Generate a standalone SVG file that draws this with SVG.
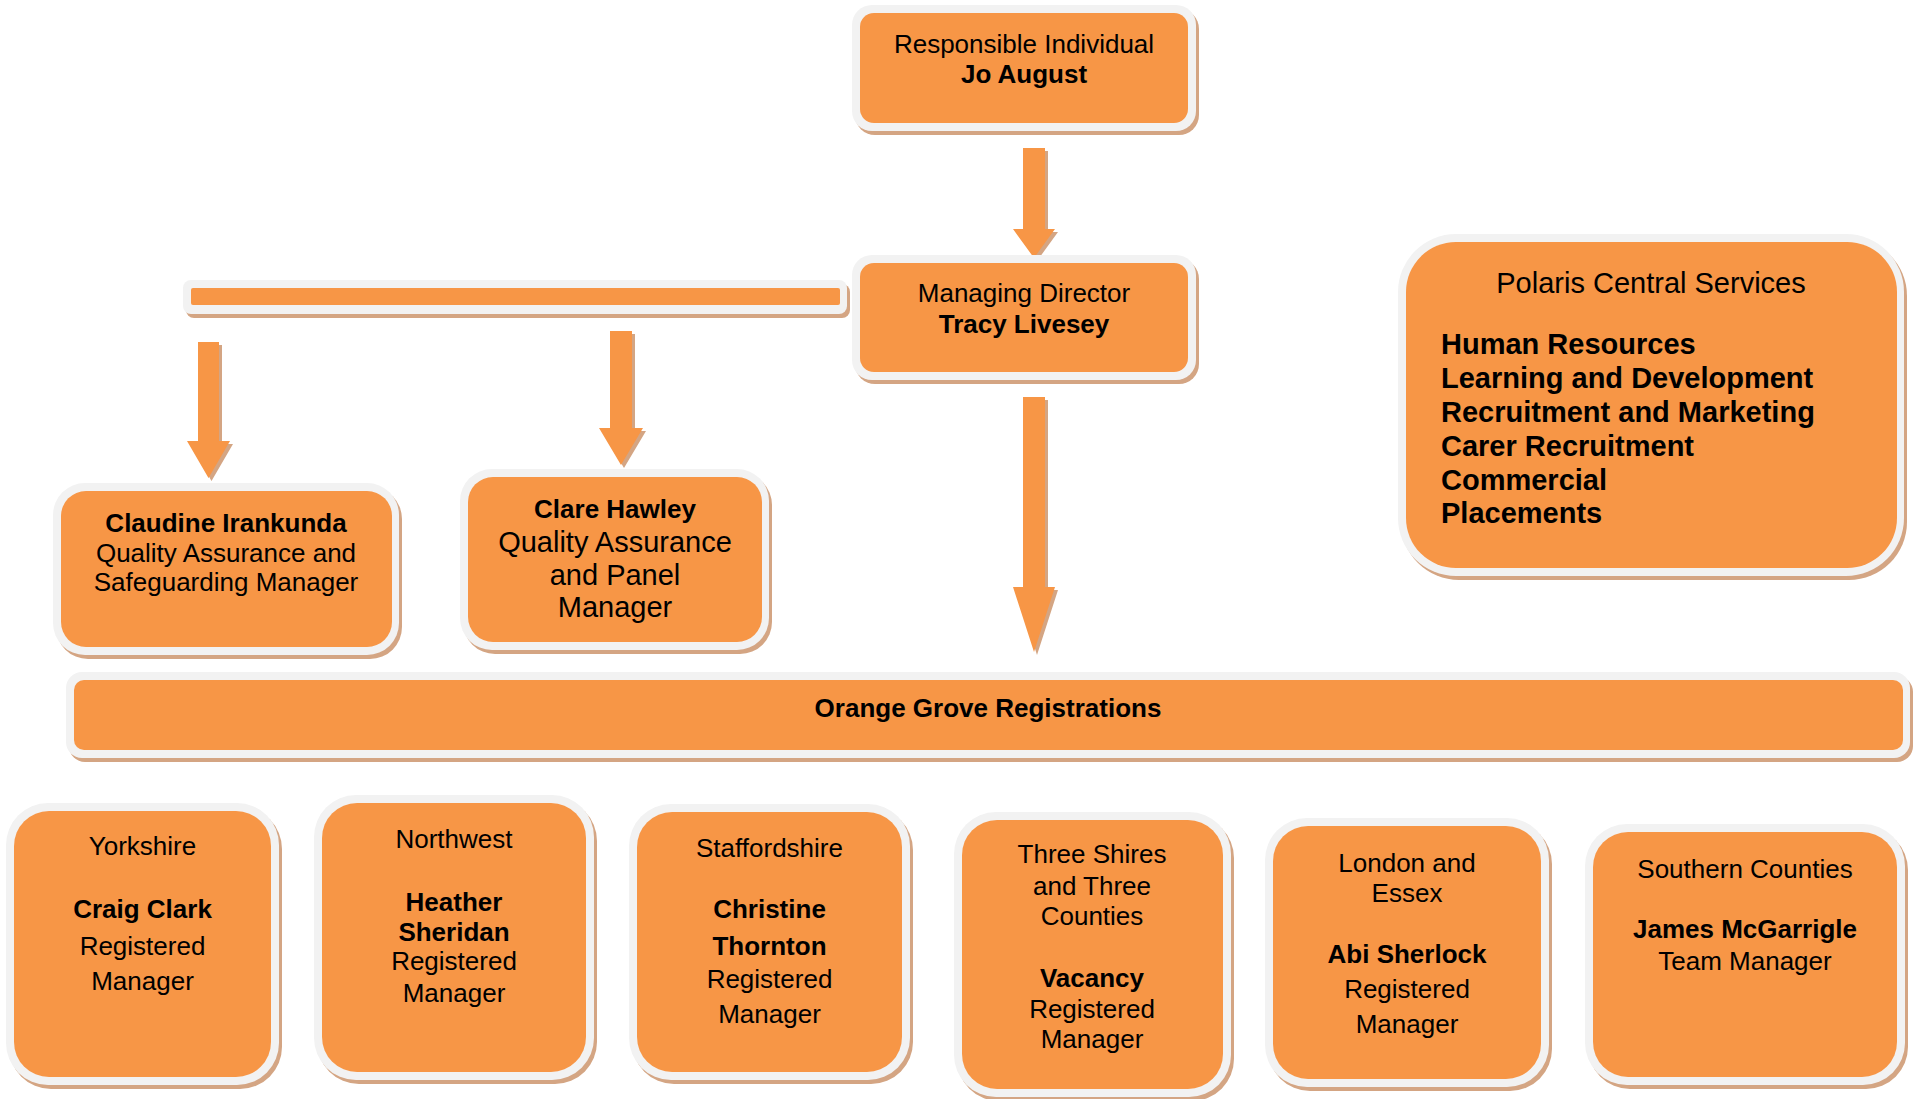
<svg xmlns="http://www.w3.org/2000/svg" width="1913" height="1099" viewBox="0 0 1913 1099">
<style>
.sh{fill:#d4a583}
.bd{fill:#f2f2f2}
.in{fill:#f79646}
.ar{fill:#f79646}
.as{fill:#d4a583}
text{font-family:"Liberation Sans",Arial,sans-serif;font-size:26px;fill:#000;text-anchor:middle}
.b{font-weight:bold}
.l{font-size:29px}
.st{text-anchor:start}
</style>
<rect width="1913" height="1099" fill="#ffffff"/>
<g id="connectors">
  <g transform="translate(3,3)" class="as">
    <polygon points="1023,148 1045,148 1045,229 1055,229 1034,258 1013,229 1023,229"/>
    <polygon points="198,342 219,342 219,441 230,441 208.5,478 187,441 198,441"/>
    <polygon points="610,331 632,331 632,428 643,428 621,465 599,428 610,428"/>
    <polygon points="1023,397 1045,397 1045,587 1055,587 1034,652 1013,587 1023,587"/>
  </g>
  <polygon class="ar" points="1023,148 1045,148 1045,229 1055,229 1034,258 1013,229 1023,229"/>
  <polygon class="ar" points="198,342 219,342 219,441 230,441 208.5,478 187,441 198,441"/>
  <polygon class="ar" points="610,331 632,331 632,428 643,428 621,465 599,428 610,428"/>
  <polygon class="ar" points="1023,397 1045,397 1045,587 1055,587 1034,652 1013,587 1023,587"/>
  <g id="hbar">
    <rect class="sh" x="186" y="284" width="664" height="34" rx="8"/>
    <rect class="bd" x="183" y="280" width="664" height="34" rx="8"/>
    <rect class="in" x="191" y="288" width="649" height="17" rx="2"/>
  </g>
</g>
<g id="responsible">
  <rect class="sh" x="855" y="9" width="344" height="126" rx="20"/>
  <rect class="bd" x="852" y="5" width="344" height="126" rx="20"/>
  <rect class="in" x="860" y="13" width="328" height="110" rx="14"/>
  <text x="1024" y="53">Responsible Individual</text>
  <text x="1024" y="83" class="b">Jo August</text>
</g>
<g id="managing">
  <rect class="sh" x="855" y="259" width="344" height="125" rx="20"/>
  <rect class="bd" x="852" y="255" width="344" height="125" rx="20"/>
  <rect class="in" x="860" y="263" width="328" height="109" rx="14"/>
  <text x="1024" y="302">Managing Director</text>
  <text x="1024" y="333" class="b">Tracy Livesey</text>
</g>
<g id="polaris">
  <rect class="sh" x="1401" y="238" width="506" height="342" rx="58"/>
  <rect class="bd" x="1398" y="234" width="506" height="342" rx="58"/>
  <rect class="in" x="1406" y="242" width="491" height="326" rx="50"/>
  <text x="1651" y="293" class="l">Polaris Central Services</text>
  <text x="1441" y="354" class="l b st">Human Resources</text>
  <text x="1441" y="388" class="l b st">Learning and Development</text>
  <text x="1441" y="422" class="l b st">Recruitment and Marketing</text>
  <text x="1441" y="456" class="l b st">Carer Recruitment</text>
  <text x="1441" y="490" class="l b st">Commercial</text>
  <text x="1441" y="523" class="l b st">Placements</text>
</g>
<g id="claudine">
  <rect class="sh" x="56" y="487" width="346" height="172" rx="32"/>
  <rect class="bd" x="53" y="483" width="346" height="172" rx="32"/>
  <rect class="in" x="61" y="491" width="331" height="156" rx="25"/>
  <text x="226" y="532" class="b">Claudine Irankunda</text>
  <text x="226" y="562">Quality Assurance and</text>
  <text x="226" y="591">Safeguarding Manager</text>
</g>
<g id="clare">
  <rect class="sh" x="463" y="473" width="309" height="181" rx="32"/>
  <rect class="bd" x="460" y="469" width="309" height="181" rx="32"/>
  <rect class="in" x="468" y="477" width="294" height="165" rx="25"/>
  <text x="615" y="518" class="b">Clare Hawley</text>
  <text x="615" y="552" class="l">Quality Assurance</text>
  <text x="615" y="585" class="l">and Panel</text>
  <text x="615" y="617" class="l">Manager</text>
</g>
<g id="orange-grove">
  <rect class="sh" x="69" y="676" width="1844" height="86" rx="16"/>
  <rect class="bd" x="66" y="672" width="1844" height="86" rx="16"/>
  <rect class="in" x="74" y="680" width="1829" height="70" rx="10"/>
  <text x="988" y="717" class="b">Orange Grove Registrations</text>
</g>
<g id="yorkshire">
  <rect class="sh" x="9" y="807" width="273" height="282" rx="42"/>
  <rect class="bd" x="6" y="803" width="273" height="282" rx="42"/>
  <rect class="in" x="14" y="811" width="257" height="266" rx="35"/>
  <text x="142.5" y="855">Yorkshire</text>
  <text x="142.5" y="918" class="b">Craig Clark</text>
  <text x="142.5" y="955">Registered</text>
  <text x="142.5" y="990">Manager</text>
</g>
<g id="northwest">
  <rect class="sh" x="317" y="799" width="280" height="285" rx="42"/>
  <rect class="bd" x="314" y="795" width="280" height="285" rx="42"/>
  <rect class="in" x="322" y="803" width="264" height="269" rx="35"/>
  <text x="454" y="848">Northwest</text>
  <text x="454" y="911" class="b">Heather</text>
  <text x="454" y="941" class="b">Sheridan</text>
  <text x="454" y="970">Registered</text>
  <text x="454" y="1002">Manager</text>
</g>
<g id="staffordshire">
  <rect class="sh" x="632" y="808" width="281" height="276" rx="42"/>
  <rect class="bd" x="629" y="804" width="281" height="276" rx="42"/>
  <rect class="in" x="637" y="812" width="265" height="260" rx="35"/>
  <text x="769.5" y="857">Staffordshire</text>
  <text x="769.5" y="918" class="b">Christine</text>
  <text x="769.5" y="955" class="b">Thornton</text>
  <text x="769.5" y="988">Registered</text>
  <text x="769.5" y="1023">Manager</text>
</g>
<g id="three-shires">
  <rect class="sh" x="957" y="816" width="277" height="285" rx="42"/>
  <rect class="bd" x="954" y="812" width="277" height="285" rx="42"/>
  <rect class="in" x="962" y="820" width="261" height="269" rx="35"/>
  <text x="1092" y="863">Three Shires</text>
  <text x="1092" y="895">and Three</text>
  <text x="1092" y="925">Counties</text>
  <text x="1092" y="987" class="b">Vacancy</text>
  <text x="1092" y="1018">Registered</text>
  <text x="1092" y="1048">Manager</text>
</g>
<g id="london">
  <rect class="sh" x="1268" y="822" width="284" height="269" rx="42"/>
  <rect class="bd" x="1265" y="818" width="284" height="269" rx="42"/>
  <rect class="in" x="1273" y="826" width="268" height="253" rx="35"/>
  <text x="1407" y="872">London and</text>
  <text x="1407" y="902">Essex</text>
  <text x="1407" y="963" class="b">Abi Sherlock</text>
  <text x="1407" y="998">Registered</text>
  <text x="1407" y="1033">Manager</text>
</g>
<g id="southern">
  <rect class="sh" x="1588" y="828" width="320" height="261" rx="42"/>
  <rect class="bd" x="1585" y="824" width="320" height="261" rx="42"/>
  <rect class="in" x="1593" y="832" width="304" height="245" rx="35"/>
  <text x="1745" y="878">Southern Counties</text>
  <text x="1745" y="938" class="b">James McGarrigle</text>
  <text x="1745" y="970">Team Manager</text>
</g>
</svg>
